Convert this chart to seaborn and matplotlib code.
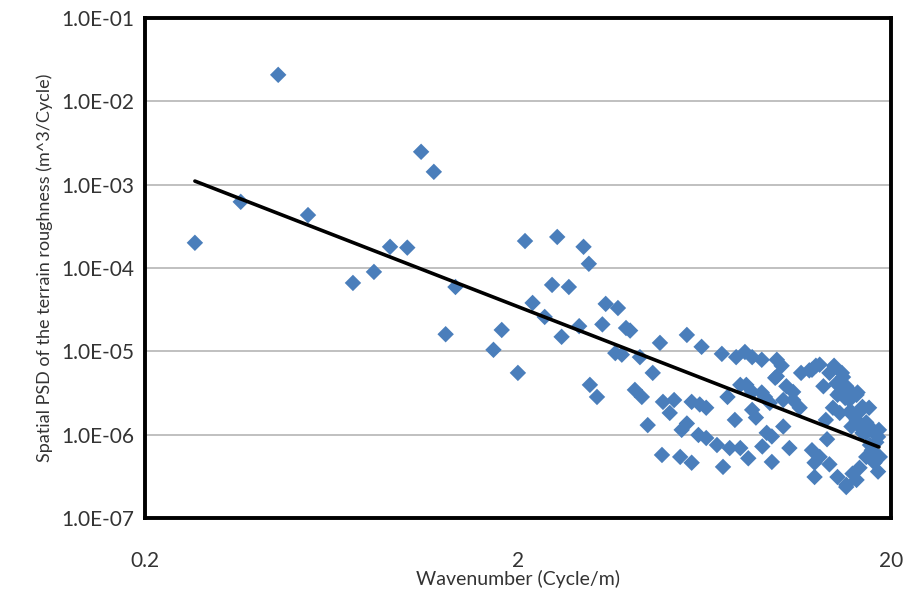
import numpy as np
import pandas as pd
import matplotlib
matplotlib.use("Agg")
import matplotlib.pyplot as plt
import matplotlib.ticker as mticker
import seaborn as sns

wavenumber = [0.272, 0.361, 0.455, 0.547, 0.722, 0.822, 0.908, 1.01, 1.10, 1.19,
              1.36, 1.28, 1.72, 1.81, 2.0, 2.09, 2.55, 3.0, 3.1, 2.47,
              2.74, 2.19, 2.36, 2.62, 2.92, 3.44, 3.71, 3.37, 3.9, 4.0,
              3.65, 3.8, 3.12, 3.26, 4.25, 4.81, 4.6, 4.12, 4.3, 4.46,
              4.87, 4.9, 5.11, 5.25, 5.68, 5.5, 5.68, 5.45, 5.85, 6.22,
              5.85, 6.15, 6.4, 6.1, 6.4, 6.84, 7.05, 7.3, 7.1, 7.4,
              7.64, 7.7, 8.13, 8.5, 7.9, 8.2, 8.5, 7.9, 8.3, 8.5,
              8.7, 9.02, 9.02, 9.2, 9.48, 9.3, 9.6, 9.05, 9.6, 9.9,
              10.2, 9.9, 10.5, 10.3, 10.95, 10.3, 10.7, 11.5, 10.95, 11.4,
              12.1, 12.6, 12.9, 12.3, 12.5, 12.5, 13.7, 13.5, 13.2, 13.7,
              14.1, 14.3, 14.6, 14.8, 14.0, 14.6, 15.2, 15.5, 15.8, 16.3,
              16.7, 15.7, 16.5, 17.2, 14.4, 15.2, 15.8, 16.5, 17.2, 17.8,
              18.1, 18.5, 18.1, 18.6, 17.5, 18.3,
              14.9, 15.5, 16.2, 15.1, 16.8, 15.5, 16.2, 17.2, 17.9, 16.8,
              18.5, 12.9, 15.2, 16.2, 18.7, 9.8, 12.3, 14.4, 17.6, 13.4]
psd = [2.0e-4, 6.2e-4, 2.07e-2, 4.3e-4, 6.6e-5, 8.95e-5, 1.79e-4, 1.75e-4, 2.47e-3, 1.42e-3,
       5.9e-5, 1.6e-5, 1.04e-5, 1.8e-5, 5.5e-6, 2.1e-4, 2.35e-4, 1.79e-4, 1.12e-4, 6.25e-5,
       5.9e-5, 3.8e-5, 2.58e-5, 1.49e-5, 2.0e-5, 3.7e-5, 3.3e-5, 2.1e-5, 1.9e-5, 1.77e-5,
       9.5e-6, 9.1e-6, 3.95e-6, 2.83e-6, 8.5e-6, 1.26e-5, 5.5e-6, 3.44e-6, 2.83e-6, 1.3e-6,
       5.7e-7, 2.47e-6, 1.82e-6, 2.6e-6, 1.57e-5, 1.14e-6, 1.36e-6, 5.4e-7, 4.6e-7, 1.13e-5,
       2.47e-6, 2.3e-6, 2.1e-6, 9.9e-7, 9.1e-7, 7.5e-7, 9.3e-6, 2.83e-6, 4.1e-7, 6.9e-7,
       1.5e-6, 8.5e-6, 9.8e-6, 8.5e-6, 3.95e-6, 3.95e-6, 3.25e-6, 6.9e-7, 5.2e-7, 1.98e-6,
       1.6e-6, 7.9e-6, 3.2e-6, 2.83e-6, 2.4e-6, 1.05e-6, 9.5e-7, 7.2e-7, 4.7e-7, 7.9e-6,
       6.7e-6, 5.0e-6, 3.8e-6, 2.6e-6, 2.6e-6, 1.25e-6, 6.9e-7, 5.5e-6, 3.25e-6, 2.1e-6,
       5.9e-6, 6.7e-6, 6.9e-6, 6.5e-7, 4.6e-7, 3.1e-7, 4.4e-7, 8.8e-7, 3.8e-6, 5.5e-6,
       6.7e-6, 4.1e-6, 3.2e-6, 5.5e-6, 2.1e-6, 1.82e-6, 3.8e-6, 2.6e-6, 1.82e-6, 3.2e-6,
       1.98e-6, 1.25e-6, 1.25e-6, 1.05e-6, 3.1e-7, 2.5e-7, 3.4e-7, 4.0e-7, 5.4e-7, 6.5e-7,
       4.6e-7, 3.6e-7, 1.05e-6, 1.14e-6, 2.1e-6, 8.1e-7,
       4.9e-6, 3.4e-6, 3.0e-6, 2.75e-6, 2.15e-6, 1.87e-6, 1.5e-6, 1.4e-6, 1.14e-6, 1.05e-6,
       9.4e-7, 5.4e-7, 2.35e-7, 2.86e-7, 5.4e-7, 4.8e-6, 6.0e-6, 3.0e-6, 7.5e-7, 1.5e-6]

trend_x = [0.272, 18.6]
trend_y = [1.1e-3, 7.1e-7]

x_ticks = [0.2, 2, 20]
x_tick_labels = ["0.2", "2", "20"]
y_ticks = [1e-7, 1e-6, 1e-5, 1e-4, 1e-3, 1e-2, 1e-1]
y_tick_labels = ["1.0E-07", "1.0E-06", "1.0E-05", "1.0E-04", "1.0E-03", "1.0E-02", "1.0E-01"]

sns.set_style("white")
plt.rcParams["font.family"] = ["Lato", "DejaVu Sans"]

fig = plt.figure(figsize=(9.07, 5.94), dpi=100)
ax = fig.add_axes([0.160, 0.128, 0.822, 0.842])

df = pd.DataFrame({"Wavenumber": wavenumber, "PSD": psd})
ax.set_xscale("log")
ax.set_yscale("log")
for yv in y_ticks[1:-1]:
    ax.axhline(yv, color="#b5b5b5", lw=1.2, zorder=0)
sns.scatterplot(data=df, x="Wavenumber", y="PSD", ax=ax, marker="D", s=70,
                color="#4a7ebb", edgecolor="none", zorder=3)
sns.lineplot(x=trend_x, y=trend_y, ax=ax, color="black", lw=2.6, zorder=4)

ax.set_xlim(0.2, 20)
ax.set_ylim(1e-7, 1e-1)
ax.set_xticks(x_ticks)
ax.set_xticklabels(x_tick_labels, fontsize=15, color="#333333")
ax.set_yticks(y_ticks)
ax.set_yticklabels(y_tick_labels, fontsize=15, color="#333333")
ax.xaxis.set_minor_locator(mticker.LogLocator(base=10, subs=np.arange(2, 10) * 1.0, numticks=20))
ax.yaxis.set_minor_locator(mticker.LogLocator(base=10, subs=np.arange(2, 10) * 1.0, numticks=20))
ax.xaxis.set_minor_formatter(mticker.NullFormatter())
ax.yaxis.set_minor_formatter(mticker.NullFormatter())
ax.tick_params(axis="x", which="major", direction="in", length=5, pad=24, color="#888888")
ax.tick_params(axis="x", which="minor", direction="in", length=3, color="#888888")
ax.tick_params(axis="y", which="major", direction="in", length=5, pad=8, color="#888888")
ax.tick_params(axis="y", which="minor", direction="in", length=3, color="#888888")

ax.set_xlabel("Wavenumber (Cycle/m)", fontsize=14, color="#333333")
ax.xaxis.set_label_coords(0.5, -0.104)
ax.set_ylabel("Spatial PSD of the terrain roughness (m^3/Cycle)", fontsize=13, color="#333333", labelpad=6)

for sp in ax.spines.values():
    sp.set_visible(True)
    sp.set_color("black")
    sp.set_linewidth(2.8)

fig.savefig("out.png", dpi=100, facecolor="white")
